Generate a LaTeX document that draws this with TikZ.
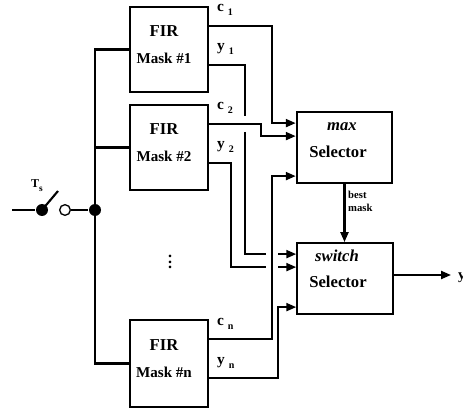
\documentclass[tikz,border=0pt]{standalone}
\usepackage{fontspec}
\setmainfont{Liberation Serif}
\usepackage{tikz}
\usetikzlibrary{calc}
\usetikzlibrary{positioning}
\usetikzlibrary{arrows.meta}

\begin{document}
\begin{tikzpicture}[x=0.75pt, y=-0.75pt, line width=1.6pt,
    >={Triangle[length=7.5pt, width=6pt]},
    firbox/.style={draw, inner sep=0pt, minimum width=58.5pt, minimum height=64pt},
    selbox/.style={draw, inner sep=0pt, minimum width=71.5pt, minimum height=53pt},
    boxtxt/.style={anchor=base, inner sep=0pt, font=\bfseries\fontsize{#1}{#1}\selectfont},
    seltop/.style={anchor=base, inner sep=0pt, font=\bfseries\itshape\fontsize{12.5}{12.5}\selectfont},
    wirelbl/.style={anchor=base west, inner sep=0pt, font=\bfseries\fontsize{11.5}{11.5}\selectfont},
    dot/.style={circle, fill, inner sep=0pt, minimum size=9pt},
    odot/.style={circle, draw, fill=white, inner sep=0pt, minimum size=8pt, line width=1pt}]
  \useasboundingbox (0,0) rectangle (463,409);

  % filter bank
  \node[firbox] (fir1) at (169,49.5) {};
  \node[firbox] (fir2) at (169,147.5) {};
  \node[firbox, minimum height=65pt] (firn) at (169,363.5) {};
  \foreach \k in {1,2,n} {
    \node[boxtxt=12.5] (fir\k-a) at ($(fir\k.north)+(-5,31)$) {FIR};
    \node[boxtxt=11.3] (fir\k-b) at ($(fir\k.north)+(-5,58)$) {Mask \#\k};
    \coordinate (c\k) at ($(fir\k.north east)+(0,20)$);
    \coordinate (y\k) at ($(fir\k.north east)+(0,59)$);
    \node[wirelbl] (c\k-l) at ($(c\k)+(7,-14)$) {c\hspace{3pt}\raisebox{-3pt}{\fontsize{7.5}{7.5}\selectfont\k}};
    \node[wirelbl] (y\k-l) at ($(y\k)+(7,-14)$) {y\hspace{3pt}\raisebox{-3pt}{\fontsize{7.5}{7.5}\selectfont\k}};
  }
  \node (vdots) at (170,258) {\bfseries\fontsize{12}{12}\selectfont\vdots};

  % selectors
  \node[selbox] (max) at (344.5,147.5) {};
  \node[seltop] (max-a) at ($(max.north)+(-2.5,19)$) {max};
  \node[boxtxt=12.5] (max-b) at ($(max.north)+(-6.5,46)$) {Selector};
  \node[selbox] (sw) at (345,278.5) {};
  \node[seltop] (sw-a) at ($(sw.north)+(-8,19)$) {switch};
  \node[boxtxt=12.5] (sw-b) at ($(sw.north)+(-7,45)$) {Selector};

  \coordinate (m1) at ($(max.north west)+(0,12)$);
  \coordinate (m2) at ($(max.north west)+(0,25)$);
  \coordinate (m3) at ($(max.north west)+(0,65)$);
  \coordinate (s1) at ($(sw.north west)+(0,12)$);
  \coordinate (s2) at ($(sw.north west)+(0,25)$);
  \coordinate (s3) at ($(sw.north west)+(0,65)$);

  % confidence lines into max
  \draw[->] (c1) -| ($(m1)+(-24,0)$) -- (m1);
  \draw[->] (c2) -| ($(m2)+(-35,0)$) -- (m2);
  \draw[->] (cn) -| ($(m3)+(-24,0)$) -- (m3);

  % filter outputs into switch, broken at crossings
  \draw (y1) -| ($(c2)+(36,-8)$);
  \draw ($(c2)+(36,8)$) |- ($(s1)+(-30,0)$);
  \draw[->] ($(s1)+(-18,0)$) -- (s1);
  \draw (y2) -| ($(s2)+(-65,0)$) -- ($(s2)+(-30,0)$);
  \draw[->] ($(s2)+(-18,0)$) -- (s2);
  \draw[->] (yn) -| ($(s3)+(-18,0)$) -- (s3);

  \draw[->] (max.south) -- (max.south |- sw.north)
    node[pos=0.3, right=2pt, align=left, inner sep=0pt, font=\bfseries\fontsize{8}{9.5}\selectfont] (bm) {best\\mask};
  \coordinate (out) at (451,275);
  \draw[->] (sw.east |- out) -- (out);
  \node[anchor=base west, inner sep=0pt, font=\bfseries\fontsize{11}{11}\selectfont] (yout) at (457,279) {y};

  % sampling switch and input bus
  \coordinate (inp) at (12,210);
  \node[dot] (sdot) at (42,210) {};
  \node[odot] (sopen) at (65,210) {};
  \node[dot] (jdot) at (95,210) {};
  \coordinate (arm) at (58,191);
  \draw (inp) -- (sdot);
  \draw (sdot.center) -- (arm);
  \draw (sopen) -- (jdot);
  \node[anchor=base west, inner sep=0pt, font=\bfseries\fontsize{9}{9}\selectfont] (ts) at (30,188)
    {T\raisebox{-3pt}{\fontsize{7}{7}\selectfont s}};
  \draw (fir1.west) -| (jdot.center) |- (firn.west);
  \draw (fir2.west) -- (fir2.west -| jdot);
\end{tikzpicture}
\end{document}
